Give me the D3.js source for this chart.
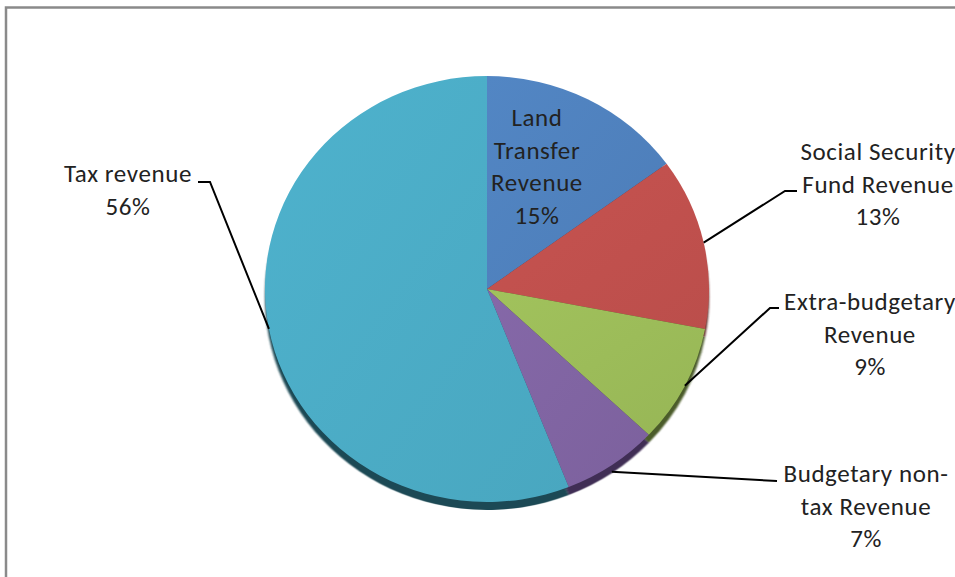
<!DOCTYPE html>
<html>
<head>
<meta charset="utf-8">
<script src="https://cdn.jsdelivr.net/npm/d3@7"></script>
<style>
  html, body { margin: 0; padding: 0; background: #fff; }
  svg { display: block; }
  text { font-family: Carlito, Calibri, Lato, sans-serif; font-size: 25px; letter-spacing: 0.6px; fill: #222; }
</style>
</head>
<body>
<svg id="chart" width="955" height="577"></svg>
<script>
// Revenue composition, in percent, clockwise from 12 o'clock
const categories = ["Land Transfer Revenue", "Social Security Fund Revenue", "Extra-budgetary Revenue", "Budgetary non-tax Revenue", "Tax revenue"];
const values = [15, 13, 9, 7, 56];
const labelLines = [
  ["Land", "Transfer", "Revenue"],
  ["Social Security", "Fund Revenue"],
  ["Extra-budgetary", "Revenue"],
  ["Budgetary non-", "tax Revenue"],
  ["Tax revenue"]
];
const colors = ["#4F81BD", "#C0504D", "#9BBB59", "#8064A2", "#4BACC6"];
const sideColors = ["#2A4566", "#5E2624", "#4B5C2A", "#3F2E55", "#1F4A55"];

const svg = d3.select("#chart");
const W = 955, H = 577;

// chart-area frame
svg.append("rect")
  .attr("x", 6).attr("y", 7.5)
  .attr("width", W + 20).attr("height", H + 20)
  .attr("fill", "none").attr("stroke", "#8a8a8a").attr("stroke-width", 2.5);

const cx = 487, cy = 289, rx = 222, ry = 213, depth = 8;
const yScale = ry / rx;

const pie = d3.pie().sort(null).value(d => d)(values);
const arc = d3.arc().innerRadius(0).outerRadius(rx);

// point on the tilted rim for a given angle (0 = 12 o'clock, clockwise)
const rim = (a, k = 1) => [cx + rx * k * Math.sin(a), cy - ry * k * Math.cos(a)];

const defs = svg.append("defs");
defs.append("filter").attr("id", "soft")
  .append("feGaussianBlur").attr("stdDeviation", 0.8);

colors.forEach((c, i) => {
  const g = defs.append("linearGradient").attr("id", "grad" + i)
    .attr("x1", "0").attr("y1", "0").attr("x2", "1").attr("y2", "1");
  g.append("stop").attr("offset", "0").attr("stop-color", d3.color(c).brighter(0.1));
  g.append("stop").attr("offset", "1").attr("stop-color", d3.color(c).darker(0.08));
});

// side of the disc, drawn as the same slices pushed down
const side = svg.append("g")
  .attr("transform", `translate(${cx},${cy + depth}) scale(1,${yScale})`)
  .attr("filter", "url(#soft)");
side.selectAll("path").data(pie).join("path")
  .attr("d", arc)
  .attr("fill", (d, i) => sideColors[i]);

// top face
const face = svg.append("g")
  .attr("transform", `translate(${cx},${cy}) scale(1,${yScale})`);
face.selectAll("path").data(pie).join("path")
  .attr("d", arc)
  .attr("fill", (d, i) => `url(#grad${i})`);

// label layout: text anchor point (centre of first line) and leader elbow
const lineH = 32.5;
const labelPos = [
  { x: 537, y: 126, inside: true },
  { x: 878, y: 160, elbow: [[785, 191], [797, 191]] },
  { x: 870, y: 310, elbow: [[770, 308], [779, 308]] },
  { x: 866, y: 482, elbow: [[777, 481]] },
  { x: 128, y: 182, elbow: [[210, 182], [198, 182]] }
];

const fmt = d3.format(".0%");
pie.forEach((d, i) => {
  const p = labelPos[i];
  const lines = labelLines[i].concat(fmt(d.value / 100));
  const t = svg.append("text").attr("text-anchor", "middle");
  lines.forEach((s, j) => {
    t.append("tspan").attr("x", p.x).attr("y", p.y + j * lineH).text(s);
  });
  if (!p.inside) {
    const mid = (d.startAngle + d.endAngle) / 2;
    const a = rim(mid);
    // anchors on the lower half sit on the disc's side
    if (Math.cos(mid) < -0.5) a[1] += depth * Math.min(1, -Math.cos(mid));
    const pts = [a].concat(p.elbow);
    svg.append("path")
      .attr("d", d3.line()(pts))
      .attr("fill", "none").attr("stroke", "#000").attr("stroke-width", 2);
  }
});
</script>
</body>
</html>
